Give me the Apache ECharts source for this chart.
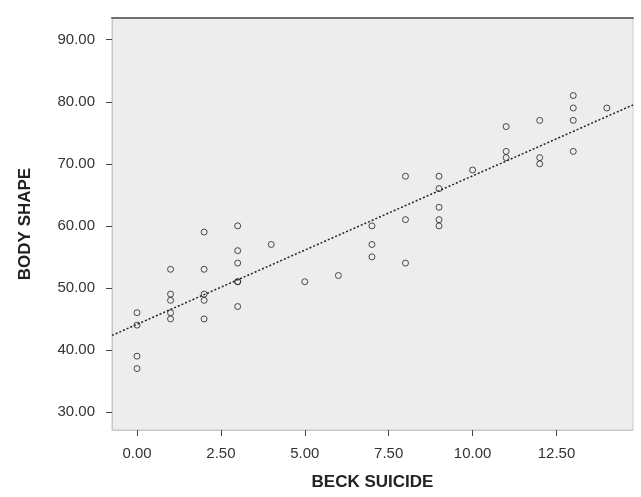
<!DOCTYPE html>
<html>
<head>
<meta charset="utf-8">
<script src="https://cdn.jsdelivr.net/npm/echarts@6/dist/echarts.min.js"></script>
<style>html,body{margin:0;padding:0;background:#fff;}#c{width:641px;height:497px;}</style>
</head>
<body>
<div id="c"></div>
<script>
// BECK SUICIDE (x) values
const beckSuicide = [
  0,0,0,0,
  1,1,1,1,1,
  2,2,2,2,2,
  3,3,3,3,3,3,
  4,5,6,
  7,7,7,
  8,8,8,
  9,9,9,9,9,
  10,
  11,11,11,
  12,12,12,
  13,13,13,13,
  14
];
// BODY SHAPE (y) values
const bodyShape = [
  46,44,39,37,
  53,49,48,46,45,
  59,53,49,48,45,
  60,56,54,51,51,47,
  57,51,52,
  60,57,55,
  68,61,54,
  68,66,63,61,60,
  69,
  76,72,71,
  77,71,70,
  81,79,77,72,
  79
];
const xTicks = [0, 2.5, 5, 7.5, 10, 12.5];
const yTicks = [30, 40, 50, 60, 70, 80, 90];
const xRange = [-0.745, 14.78];
const yRange = [27.1, 93.5];

// least-squares fit line
const n = beckSuicide.length;
let sx = 0, sy = 0, sxx = 0, sxy = 0;
for (let i = 0; i < n; i++) {
  sx += beckSuicide[i]; sy += bodyShape[i];
  sxx += beckSuicide[i] * beckSuicide[i]; sxy += beckSuicide[i] * bodyShape[i];
}
const slope = (sxy - sx * sy / n) / (sxx - sx * sx / n);
const intercept = sy / n - slope * sx / n;
const fitLine = [
  [xRange[0], intercept + slope * xRange[0]],
  [xRange[1], intercept + slope * xRange[1]]
];
const points = beckSuicide.map((x, i) => [x, bodyShape[i]]);

const font = 'Liberation Sans, Arial, sans-serif';
const chart = echarts.init(document.getElementById('c'));
chart.setOption({
  animation: false,
  grid: {
    left: 112, top: 18, right: 8, bottom: 67,
    show: true, backgroundColor: '#ededed', borderColor: '#c9c9c9', borderWidth: 1
  },
  xAxis: [{
    type: 'value', min: xRange[0], max: xRange[1],
    name: 'BECK SUICIDE', nameLocation: 'middle', nameGap: 44,
    nameTextStyle: { fontFamily: font, fontSize: 17, fontWeight: 'bold', color: '#222' },
    axisLine: { show: true, onZero: false, lineStyle: { color: '#c9c9c9', width: 1 } },
    axisTick: { show: true, length: 6, customValues: xTicks, lineStyle: { color: '#444' } },
    axisLabel: { customValues: xTicks, margin: 16, fontFamily: font, fontSize: 15, color: '#333',
      formatter: v => v.toFixed(2) },
    splitLine: { show: false }
  }, {
    type: 'value', position: 'top', min: xRange[0], max: xRange[1],
    axisLine: { show: true, onZero: false, lineStyle: { color: '#707070', width: 2 } },
    axisTick: { show: false }, axisLabel: { show: false }, splitLine: { show: false }
  }],
  yAxis: {
    type: 'value', min: yRange[0], max: yRange[1],
    name: 'BODY SHAPE', nameLocation: 'middle', nameGap: 78,
    nameTextStyle: { fontFamily: font, fontSize: 17, fontWeight: 'bold', color: '#222' },
    axisLine: { show: true, onZero: false, lineStyle: { color: '#c9c9c9', width: 1 } },
    axisTick: { show: true, length: 6, customValues: yTicks, lineStyle: { color: '#444' } },
    axisLabel: { customValues: yTicks, margin: 17, fontFamily: font, fontSize: 15, color: '#333',
      formatter: v => v.toFixed(2) },
    splitLine: { show: false }
  },
  series: [{
    type: 'scatter', data: points, symbol: 'circle', symbolSize: 6,
    itemStyle: { color: 'rgba(0,0,0,0)', borderColor: '#222', borderWidth: 1 }
  }, {
    type: 'line', data: fitLine, symbol: 'none',
    lineStyle: { color: '#222', width: 1.5, type: [2, 2] }
  }]
});
</script>
</body>
</html>
